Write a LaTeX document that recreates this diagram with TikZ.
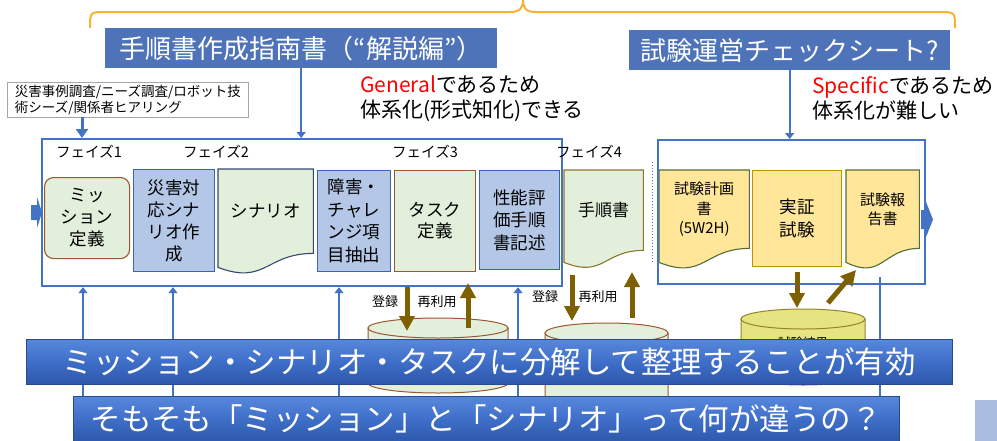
\documentclass[tikz,border=0pt]{standalone}
\usepackage{fontspec}
\setmainfont{Noto Sans CJK JP}
\usetikzlibrary{arrows.meta,backgrounds,calc}
\definecolor{lblue}{RGB}{79,115,184}
\definecolor{fblue}{RGB}{68,114,196}
\definecolor{boxblue}{RGB}{180,199,231}
\definecolor{bbord}{RGB}{60,100,175}
\definecolor{lgreen}{RGB}{226,239,218}
\definecolor{brownb}{RGB}{156,87,45}
\definecolor{docblue}{RGB}{52,73,110}
\definecolor{oliveb}{RGB}{140,120,40}
\definecolor{yel}{RGB}{255,230,153}
\definecolor{ygreen}{RGB}{84,110,50}
\definecolor{ygold}{RGB}{191,144,0}
\definecolor{darrow}{RGB}{127,96,0}
\definecolor{cylY}{RGB}{230,228,130}
\definecolor{cylYb}{RGB}{150,130,40}
\definecolor{orng}{RGB}{247,178,52}
\definecolor{bandtop}{RGB}{88,136,220}
\definecolor{bandmid}{RGB}{62,110,200}
\definecolor{bandbot}{RGB}{45,88,170}
\definecolor{bandedge}{RGB}{40,75,140}
\definecolor{sqblue}{RGB}{169,188,224}
\newcommand{\docshape}[4]{%
  \begin{scope}[on background layer]
    \filldraw[#1] (#2.north west) -- (#2.north east) -- (#2.south east)
      .. controls (#2.south) and ($(#2.south)+(0,#4)$) .. ($(#2.south west)+(0,#3)$) -- cycle;
  \end{scope}}
\newcommand{\cylshape}[6]{%
  \filldraw[#1] (#2,#4) -- (#2,#5) arc[start angle=180,end angle=0,x radius={(#3-#2)/2},y radius=#6] -- (#3,#4) -- cycle;
  \filldraw[#1] ({(#2+#3)/2},#4) ellipse[x radius={(#3-#2)/2},y radius=#6];}
\begin{document}
\begin{tikzpicture}[x=1pt,y=-1pt,
  lbl/.style={fill=lblue, text=white, inner sep=0pt, anchor=north west, minimum height=40pt, font=\fontsize{26}{30}\selectfont},
  frm/.style={draw=fblue, line width=2.2pt, anchor=north west, inner sep=0pt},
  bbox/.style={fill=boxblue, draw=bbord, line width=1.1pt, anchor=north west, inner sep=0pt, align=center, font=\fontsize{17.5}{22}\selectfont},
  gbox/.style={fill=lgreen, draw=brownb, line width=1.1pt, anchor=north west, inner sep=0pt, align=center, font=\fontsize{17.5}{22}\selectfont},
  ybox/.style={fill=yel, draw=ygold, line width=1.1pt, anchor=north west, inner sep=0pt, align=center, font=\fontsize{17.5}{23}\selectfont},
  docn/.style={anchor=north west, inner sep=0pt, align=center},
  docg/.style={fill=lgreen, draw=docblue, line width=1.1pt},
  doco/.style={fill=lgreen, draw=oliveb, line width=1.1pt},
  docy/.style={fill=yel, draw=ygreen, line width=1.1pt},
  cylg/.style={fill=lgreen, draw=brownb, line width=1pt},
  cyly/.style={fill=cylY, draw=cylYb, line width=1pt},
  phase/.style={inner sep=0pt, font=\fontsize{14.5}{17}\selectfont},
  small/.style={inner sep=0pt, font=\fontsize{13}{16}\selectfont},
  note/.style={inner sep=0pt, anchor=north west, align=left, font=\fontsize{21}{25}\selectfont},
  blarrow/.style={fblue, line width=1.6pt, -{Triangle[width=9pt,length=6pt]}},
  thickb/.style={fblue, line width=3pt, -{Triangle[width=12pt,length=9pt]}},
  brarrow/.style={darrow, line width=5pt, -{Triangle[width=15pt,length=15pt]}},
  band/.style={top color=bandtop, bottom color=bandbot, middle color=bandmid, draw=bandedge, line width=0.8pt, text=white, inner sep=0pt, anchor=north west, font=\fontsize{30.5}{34}\selectfont}
]
\useasboundingbox (0,0) rectangle (997,440);
\clip (0,0) rectangle (997,440);

% orange brace
\draw[orng, line width=2pt] (90,28) .. controls (90,12) and (90,12) .. (106,12) -- (510,12)
  .. controls (520,12) and (523,8) .. (523,0) .. controls (523,8) and (526,12) .. (536,12) -- (939,12)
  .. controls (955,12) and (955,12) .. (955,28);

% title labels
\node[lbl, minimum width=392pt] (gl) at (105,28) {手順書作成指南書（“解説編”）};
\node[lbl, minimum width=321pt, font=\fontsize{26}{30}\selectfont] (sl) at (629,30) {試験運営チェックシート?};

% frames
\node[frm, minimum width=520pt, minimum height=147pt] (fl) at (41,138) {};
\node[frm, minimum width=267pt, minimum height=144pt] (fr) at (657,139) {};

\draw[blarrow] (gl.south) -- (gl.south |- fl.north);
\draw[blarrow] (sl.south) -- (sl.south |- fr.north);

% small gray box
\node[draw={rgb,255:red,166;green,166;blue,166}, fill=white, line width=0.8pt, anchor=north west, minimum width=241pt, minimum height=35pt, inner sep=0pt, align=left, font=\fontsize{13.5}{16}\selectfont] (gb) at (7,82)
  {災害事例調査/ニーズ調査/ロボット技\\術シーズ/関係者ヒアリング};
\coordinate (gba) at (82,117);
\draw[thickb] (gba) -- (gba |- fl.north);

% notes
\node[note] (n1) at (360,76) {{\color{red}General}であるため\\体系化(形式知化)できる};
\node[note] (n2) at (812,76) {{\color{red}Specific}であるため\\体系化が難しい};

% phase labels
\node[phase] (p1) at (89,152) {フェイズ1};
\node[phase] (p2) at (216,152) {フェイズ2};
\node[phase] (p3) at (425,152) {フェイズ3};
\node[phase] (p4) at (589,152) {フェイズ4};

% chevrons
\fill[fblue] (31,205) -- (37,205) -- (37,197) -- (42,212.5) -- (37,228) -- (37,220) -- (31,220) -- cycle;
\fill[fblue] (921,210) -- (926,210) -- (926,202) -- (933,219.5) -- (926,237) -- (926,229) -- (921,229) -- cycle;

% dotted separator
\draw[fblue, line width=1pt, dotted] (652,162) -- (652,263);

% process boxes
\node[gbox, rounded corners=9pt, minimum width=85pt, minimum height=81pt] (m1) at (44,177) {ミッ\\ション\\定義};
\node[bbox, minimum width=81pt, minimum height=102pt] (s1) at (133,169) {災害対\\応シナ\\リオ作\\成};
\node[docn, minimum width=95pt, minimum height=84pt, font=\fontsize{17.5}{22}\selectfont] (sc) at (218,169) {シナリオ};
\docshape{docg}{sc}{14}{32}
\node[bbox, minimum width=73pt, minimum height=101pt, font=\fontsize{17.5}{22.5}\selectfont] (b3) at (317,170) {障害・\\チャレ\\ンジ項\\目抽出};
\node[gbox, minimum width=81pt, minimum height=101pt, font=\fontsize{17.5}{21}\selectfont] (t1) at (394,170) {タスク\\定義};
\node[bbox, minimum width=80pt, minimum height=99pt, font=\fontsize{17.5}{22.5}\selectfont] (pf) at (479,170) {性能評\\価手順\\書記述};
\node[docn, minimum width=79pt, minimum height=80pt, font=\fontsize{17}{22}\selectfont] (tj) at (564,170) {手順書};
\docshape{doco}{tj}{12}{28}

\node[docn, minimum width=90pt, minimum height=78pt, font=\fontsize{15}{19.5}\selectfont] (kk) at (659,170) {試験計画\\書\\(5W2H)};
\docshape{docy}{kk}{14}{32}
\node[ybox, minimum width=89pt, minimum height=96pt] (js) at (752,170) {実証\\試験};
\node[docn, minimum width=73pt, minimum height=78pt, font=\fontsize{15}{19.5}\selectfont] (hk) at (846,170) {試験報\\告書};
\docshape{docy}{hk}{14}{32}

% cylinders
\cylshape{cylg}{368}{508}{328}{383}{10}
\cylshape{cylg}{545}{668}{333}{460}{10}
\cylshape{cyly}{741}{865}{319}{375}{10}
\node[small, font=\fontsize{12.5}{15}\selectfont] (cy3) at (803,342.5) {試験結果};

% brown arrows
\coordinate (r1a) at (407,287); \coordinate (r1b) at (407,331);
\coordinate (r2a) at (468,328); \coordinate (r2b) at (468,283);
\coordinate (r3a) at (572,275); \coordinate (r3b) at (572,321);
\coordinate (r4a) at (632,318); \coordinate (r4b) at (632,272);
\coordinate (r5a) at (797,272); \coordinate (r5b) at (797,308);
\coordinate (r6a) at (828,303); \coordinate (r6b) at (856,270);
\draw[brarrow] (r1a) -- (r1b);
\draw[brarrow] (r2a) -- (r2b);
\draw[brarrow] (r3a) -- (r3b);
\draw[brarrow] (r4a) -- (r4b);
\draw[brarrow] (r5a) -- (r5b);
\draw[brarrow] (r6a) -- (r6b);
\node[small] (lb1) at (385,302) {登録};
\node[small] (lb2) at (437,302) {再利用};
\node[small] (lb3) at (545,297) {登録};
\node[small] (lb4) at (598,297) {再利用};

% blue arrows from below
\coordinate (u1) at (83,445); \coordinate (u2) at (173,445);
\coordinate (u3) at (339,445); \coordinate (u4) at (518,445);
\draw[blarrow] (u1) -- (u1 |- fl.south);
\draw[blarrow] (u2) -- (u2 |- fl.south);
\draw[blarrow] (u3) -- (u3 |- fl.south);
\draw[blarrow] (u4) -- (u4 |- fl.south);
\coordinate (v1) at (880,277); \coordinate (v2) at (880,396);
\draw[fblue, line width=1.5pt] (v1) -- (v2);

% bands
\node[band, minimum width=926pt, minimum height=45pt] (bd1) at (26,339) {ミッション・シナリオ・タスクに分解して整理することが有効};
\node[band, minimum width=826pt, minimum height=46pt] (bd2) at (73,396) {そもそも「ミッション」と「シナリオ」って何が違うの？};
\fill[sqblue] (975,400) rectangle (1000,445);
\end{tikzpicture}
\end{document}
